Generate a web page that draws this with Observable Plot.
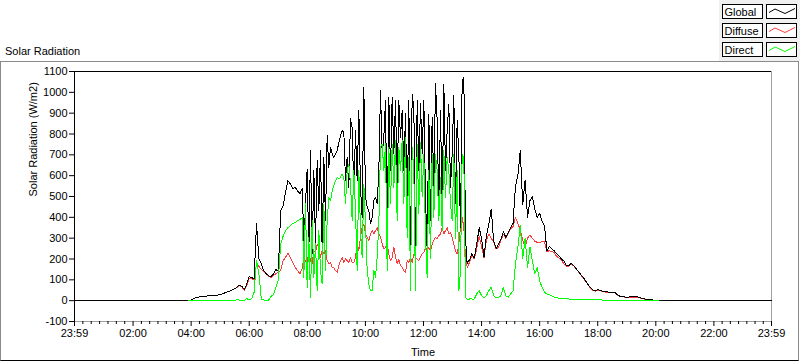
<!DOCTYPE html>
<html><head><meta charset="utf-8">
<script src="https://cdn.jsdelivr.net/npm/d3@7"></script>
<script src="https://cdn.jsdelivr.net/npm/@observablehq/plot@0.6"></script>
<style>
body{margin:0;background:#fff;}
#page{position:relative;width:800px;height:361px;overflow:hidden;font-family:"Liberation Sans",Arial,sans-serif;font-size:11px;color:#000;}
#panel{position:absolute;left:0;top:61px;width:797px;height:298px;border-top:1px solid #8a8a8a;border-left:1px solid #8a8a8a;border-right:1px solid #8a8a8a;border-bottom:1px solid #000;}
#title{position:absolute;left:5px;top:45px;white-space:nowrap;}
#legend{position:absolute;left:719px;top:0;width:81px;height:61px;background:#f0f0f0;}
#chart{position:absolute;left:0;top:61px;}
</style></head>
<body><div id="page">
<div id="panel"></div>
<div id="title">Solar Radiation</div>
<div id="legend"></div>
<div id="chart"></div>
</div>
<script>
// ---------------- data ----------------
const seriesNames = ["Global", "Diffuse", "Direct"];
const seriesColors = ["#000000", "#ff3c3c", "#00ff00"];

// morning: every 5 min from 03:55 to 07:50
const morningStartMin = 3 * 60 + 55, morningStepMin = 5;
const globalMorning = [0,
  4,10,15,17,19,21,22,23,24,24,25,27,
  30,33,38,42,46,51,57,66,75,68,52,80,
  115,112,104,368,200,176,144,130,120,115,128,150,
  140,432,455,520,576,560,536,545,525,515,540];
const diffuseMorning = [0,
  4,10,15,17,19,21,22,23,24,24,25,27,
  30,33,38,42,46,51,57,64,72,66,50,75,
  108,104,100,176,165,150,140,128,118,112,120,130,
  135,144,192,208,227,208,184,160,144,128,160];
const directMorning = [0,
  0,0,0,0,0,0,0,0,0,0,0,0,
  0,0,0,0,0,0,0,5,2,3,2,10,
  3,10,40,192,128,8,3,3,3,20,30,64,
  100,272,310,336,350,360,370,376,384,390,400];

// midday: read every 3.44 min from 07:52.8 to 13:33.7
const middayStartMin = 7 * 60 + 52.8, middayStepMin = 3.4434;
const globalMidday = [
  224,464,632,232,720,224,624,272,672,432,
  720,240,688,384,792,640,736,704,688,704,
  720,760,792,816,808,576,688,544,872,832,
  512,816,576,912,544,400,1024,496,448,432,
  368,400,480,496,464,624,1008,704,784,960,
  304,976,624,976,704,960,544,960,784,912,
  624,896,432,960,208,992,928,224,960,624,
  944,704,960,496,240,896,384,880,544,1040,
  864,448,912,432,1040,624,816,944,544,704,
  984,464,864,704,352,1056,1072,304,176,192];
const diffuseMidday = [
  208,192,176,240,192,176,240,232,272,256,
  208,240,224,240,192,176,184,160,160,144,
  136,168,192,208,184,200,192,184,208,184,
  184,208,272,240,304,352,368,320,304,288,
  320,336,320,336,352,320,304,272,248,256,
  272,224,192,208,256,208,176,200,168,160,
  144,136,192,184,208,184,224,208,200,192,
  208,224,232,256,240,256,240,272,288,304,
  296,312,320,352,320,336,352,320,328,304,
  272,240,224,272,352,400,352,208,160,176];
const directMidday = [
  112,464,64,304,16,384,112,272,48,336,
  144,80,464,144,384,496,480,528,552,576,
  592,584,592,608,592,464,624,656,560,384,
  624,432,144,624,336,208,560,368,144,80,
  48,48,144,112,208,368,736,752,624,752,
  144,736,464,752,544,768,384,736,624,768,
  464,784,304,688,48,736,624,48,752,420,
  760,500,704,304,112,624,200,704,400,700,
  624,384,592,336,720,496,688,624,464,384,
  704,300,624,48,144,704,680,16,8,3];

// afternoon: every 5 min from 13:35 to 20:05
const afternoonStartMin = 13 * 60 + 35, afternoonStepMin = 5;
const globalAfternoon = [195,225,205,270,350,
  300,210,310,368,440,285,250,270,295,330,305,325,
  350,370,550,600,720,460,580,400,480,500,440,400,
  420,380,360,240,260,248,240,225,215,200,190,170,
  168,180,170,155,140,125,112,95,78,62,52,48,
  52,50,46,44,42,40,40,40,30,22,20,18,
  16,18,18,18,18,17,12,10,6,5,4,3,
  2,0];
const diffuseAfternoon = [185,215,200,250,310,
  260,205,290,320,300,280,248,256,290,320,300,320,
  345,355,400,370,340,290,260,300,315,300,285,280,
  280,284,285,235,240,236,232,212,205,195,176,164,
  165,175,168,155,140,123,110,93,76,60,50,46,
  50,48,44,42,40,38,38,38,29,21,19,17,
  15,17,17,17,17,16,11,9,5,4,3,2,
  1,0];
const directAfternoon = [11,8,8,32,48,
  24,13,24,48,64,24,13,16,24,64,24,16,
  32,48,176,256,360,200,300,160,256,192,128,160,
  96,64,40,32,28,24,16,14,12,11,10,9,
  8,8,7,7,6,6,6,5,5,5,5,5,
  5,4,3,1,0,0,0,0,0,0,0,0,
  0,0,0,0,0,0,0,0,0,0,0,0,
  0,0];

const xTickHours = [-1/60, 2, 4, 6, 8, 10, 12, 14, 16, 18, 20, 22, 24 - 1/60];
const xTickLabels = ["23:59","02:00","04:00","06:00","08:00","10:00","12:00","14:00","16:00","18:00","20:00","22:00","23:59"];
const yTicks = [-100,0,100,200,300,400,500,600,700,800,900,1000,1100];
const yLabel = "Solar Radiation (W/m2)";
const xLabel = "Time";

// ---------------- tables ----------------
const seg = (vals, startMin, stepMin) => vals.map((v, i) => ({t: (startMin + i * stepMin) / 60, v}));
const joinSeries = (m, d, a) => [
  ...seg(m, morningStartMin, morningStepMin),
  ...seg(d, middayStartMin, middayStepMin),
  ...seg(a, afternoonStartMin, afternoonStepMin)];
const xStart = xTickHours[0], xEnd = xTickHours[xTickHours.length - 1];
const globalData = [{t: xStart, v: 0}, ...joinSeries(globalMorning, globalMidday, globalAfternoon), {t: xEnd, v: 0}];
const diffuseData = joinSeries(diffuseMorning, diffuseMidday, diffuseAfternoon);
const directData = joinSeries(directMorning, directMidday, directAfternoon);

const minorTicks = [];
for (let k = 0; k < xTickHours.length - 1; k++) {
  const a = xTickHours[k], b = xTickHours[k + 1];
  for (let j = 1; j < 7; j++) minorTicks.push(a + (b - a) * j / 7);
}
const labelOf = new Map(xTickHours.map((h, i) => [h, xTickLabels[i]]));

const lineStyle = {x: "t", y: "v", strokeWidth: 1, shapeRendering: "crispEdges"};
const chart = Plot.plot({
  width: 800, height: 300,
  marginLeft: 74, marginRight: 29, marginTop: 10, marginBottom: 40,
  style: {background: "transparent", fontFamily: '"Liberation Sans", Arial, sans-serif', fontSize: "11px", color: "#000"},
  x: {domain: [xStart, xEnd], axis: null},
  y: {domain: [-100, 1100], axis: null},
  marks: [
    Plot.ruleY([-100], {stroke: "#a0a0a0"}),
    Plot.ruleX([xEnd], {stroke: "#a0a0a0"}),
    Plot.ruleY([1100], {stroke: "#000"}),
    Plot.ruleX([xStart], {stroke: "#000"}),
    Plot.line(diffuseData, {...lineStyle, stroke: seriesColors[1]}),
    Plot.line(globalData, {...lineStyle, stroke: seriesColors[0]}),
    Plot.line(directData, {...lineStyle, stroke: seriesColors[2]}),
    Plot.axisY({ticks: yTicks, tickFormat: d => String(d), tickSize: 5, tickPadding: 2, anchor: "left", label: null}),
    Plot.axisX({ticks: xTickHours, tickFormat: d => labelOf.get(d), tickSize: 5, tickPadding: 3, anchor: "bottom", label: null}),
    Plot.axisX({ticks: minorTicks, tickFormat: () => "", tickSize: 3, anchor: "bottom", label: null}),
    Plot.text([yLabel], {text: d => d, frameAnchor: "left", dx: -41, rotate: -90, fill: "#000"}),
    Plot.text([xLabel], {text: d => d, frameAnchor: "bottom", dy: 31, lineAnchor: "middle", fill: "#000"})
  ]
});
document.getElementById("chart").appendChild(chart);

// ---------------- legend ----------------
const ns = "http://www.w3.org/2000/svg";
const lg = document.createElementNS(ns, "svg");
lg.setAttribute("width", 81); lg.setAttribute("height", 61);
seriesNames.forEach((name, i) => {
  const y0 = 4.5 + i * 19;
  const r1 = document.createElementNS(ns, "rect");
  r1.setAttribute("x", 3.5); r1.setAttribute("y", y0); r1.setAttribute("width", 40); r1.setAttribute("height", 14);
  r1.setAttribute("fill", "#fff"); r1.setAttribute("stroke", "#000");
  lg.appendChild(r1);
  const tx = document.createElementNS(ns, "text");
  tx.setAttribute("x", 5.5); tx.setAttribute("y", y0 + 11);
  tx.setAttribute("font-family", '"Liberation Sans", Arial, sans-serif'); tx.setAttribute("font-size", "11");
  tx.textContent = name;
  lg.appendChild(tx);
  const r2 = document.createElementNS(ns, "rect");
  r2.setAttribute("x", 47.5); r2.setAttribute("y", y0); r2.setAttribute("width", 30); r2.setAttribute("height", 14);
  r2.setAttribute("fill", "#fff"); r2.setAttribute("stroke", "#000");
  lg.appendChild(r2);
  const p = document.createElementNS(ns, "polyline");
  p.setAttribute("points", `50,${y0+8} 56,${y0+4.5} 66,${y0+9} 76,${y0+4}`);
  p.setAttribute("fill", "none"); p.setAttribute("stroke", seriesColors[i]);
  lg.appendChild(p);
});
document.getElementById("legend").appendChild(lg);
</script>
</body></html>
